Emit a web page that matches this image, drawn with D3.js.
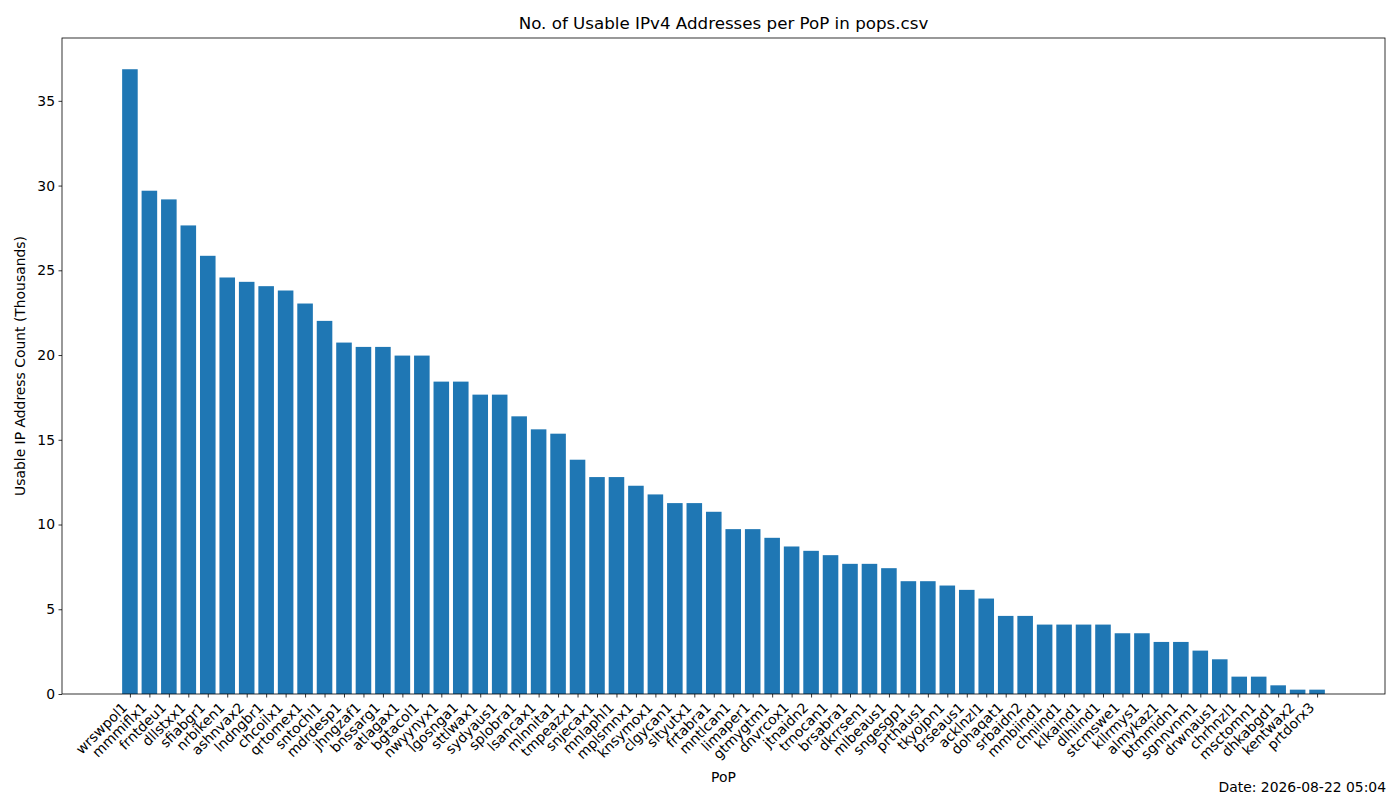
<!DOCTYPE html>
<html><head><meta charset="utf-8">
<script src="https://cdn.jsdelivr.net/npm/d3@7"></script>
<style>body{margin:0;background:#fff;} text{font-family:"DejaVu Sans",sans-serif;}</style>
</head><body>
<svg id="c" width="1400" height="800"></svg>
<script>
const pops = ["wrswpol1","mmmiflx1","frntdeu1","dllstxx1","sfiabgr1","nrbiken1","ashnvax2","lndngbr1","chcoilx1","qrtomex1","sntochl1","mdrdesp1","jhngzaf1","bnssarg1","atlagax1","bgtacol1","nwyynyx1","lgosnga1","sttlwax1","sydyaus1","splobra1","lsancax1","mlnnita1","tmpeazx1","snjecax1","mnlaphl1","mplsmnx1","knsymox1","clgycan1","sltyutx1","frtabra1","mntlcan1","limaper1","gtmygtm1","dnvrcox1","jtnaidn2","trnocan1","brsabra1","dkrrsen1","mlbeaus1","sngesgp1","prthaus1","tkyojpn1","brseaus1","acklnzl1","dohaqat1","srbaidn2","mmbiind1","chniind1","klkaind1","dlhiind1","stcmswe1","kllrmys1","almykaz1","btmmidn1","sgnnvnm1","drwnaus1","chrhnzl1","msctomn1","dhkabgd1","kentwax2","prtdorx3"];
const counts = [36.864,29.696,29.184,27.648,25.856,24.576,24.32,24.064,23.808,23.04,22.016,20.736,20.48,20.48,19.968,19.968,18.432,18.432,17.664,17.664,16.384,15.616,15.36,13.824,12.8,12.8,12.288,11.776,11.264,11.264,10.752,9.728,9.728,9.216,8.704,8.448,8.192,7.68,7.68,7.424,6.656,6.656,6.4,6.144,5.632,4.608,4.608,4.096,4.096,4.096,4.096,3.584,3.584,3.072,3.072,2.56,2.048,1.024,1.024,0.512,0.256,0.256];
const yTicks = [0,5,10,15,20,25,30,35];
const titleText = "No. of Usable IPv4 Addresses per PoP in pops.csv";
const xLabel = "PoP";
const yLabel = "Usable IP Address Count (Thousands)";
const dateText = "Date: 2026-08-22 05:04";

const svg = d3.select("#c");
const L=62, R=1385, T=38, B=694;
const n = pops.length, bw = 0.8;
const span = (n-1) + bw;
const x = d3.scaleLinear().domain([-bw/2 - 0.05*span, (n-1)+bw/2 + 0.05*span]).range([L,R]);
const ymax = d3.max(counts)*1.05;
const y = d3.scaleLinear().domain([0, ymax]).range([B,T]);

svg.append("g").selectAll("rect").data(counts).join("rect")
  .attr("x",(d,i)=>x(i-bw/2)).attr("width",(d,i)=>x(i+bw/2)-x(i-bw/2))
  .attr("y",d=>y(d)).attr("height",d=>y(0)-y(d)).attr("fill","#1f77b4");

// y axis
const ya = svg.append("g").attr("transform",`translate(${L},0)`)
  .call(d3.axisLeft(y).tickValues(yTicks).tickSize(3.5).tickPadding(3.5).tickFormat(d3.format("d")));
ya.select(".domain").remove();
ya.selectAll(".tick line").attr("stroke","#000").attr("stroke-width",0.8);
ya.selectAll(".tick text").attr("font-size","13.9px").attr("fill","#000").attr("font-family","DejaVu Sans");

// x axis
const xa = svg.append("g").attr("transform",`translate(0,${B})`)
  .call(d3.axisBottom(x).tickValues(d3.range(n)).tickSize(3.5).tickFormat(i=>pops[i]));
xa.select(".domain").remove();
xa.selectAll(".tick line").attr("stroke","#000").attr("stroke-width",0.8);
xa.selectAll(".tick text").attr("font-size","13.9px").attr("fill","#000").attr("font-family","DejaVu Sans")
  .attr("text-anchor","end").attr("dy",null).attr("y",null)
  .attr("transform","translate(-2.3,14.5) rotate(-45)");

// frame
svg.append("rect").attr("x",L).attr("y",T).attr("width",R-L).attr("height",B-T)
  .attr("fill","none").attr("stroke","#000").attr("stroke-width",0.8);

svg.append("text").attr("x",(L+R)/2).attr("y",29).attr("text-anchor","middle")
  .attr("font-size","16.7px").text(titleText);
svg.append("text").attr("x",(L+R)/2).attr("y",782).attr("text-anchor","middle")
  .attr("font-size","13.9px").text(xLabel);
svg.append("text").attr("transform",`translate(25,${(T+B)/2}) rotate(-90)`).attr("text-anchor","middle")
  .attr("font-size","13.9px").text(yLabel);
svg.append("text").attr("x",1386).attr("y",792).attr("text-anchor","end")
  .attr("font-size","13.9px").text(dateText);
</script>
</body></html>
